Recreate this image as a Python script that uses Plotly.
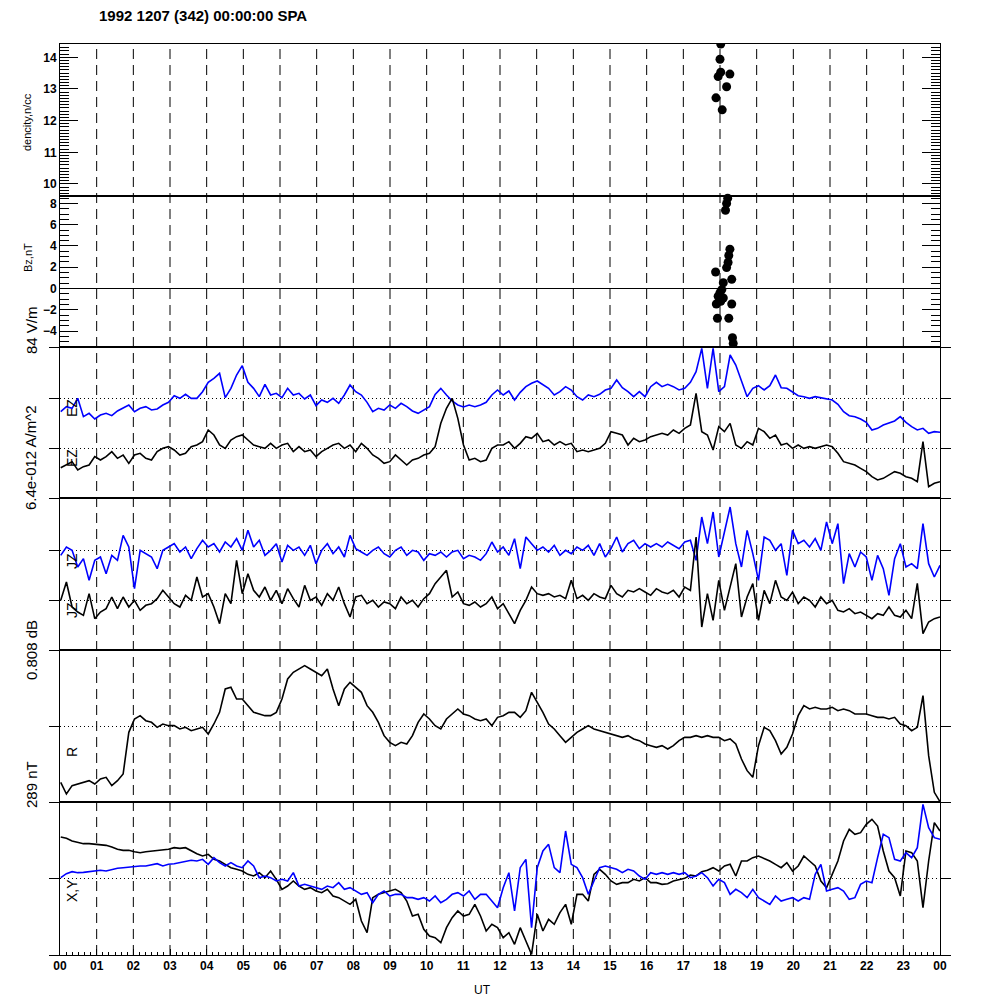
import numpy as np
import plotly.graph_objects as go

TITLE = "1992 1207 (342) 00:00:00 SPA"
HOUR_TICKS = list(range(25))
HOUR_LABELS = ["%02d" % (h % 24) for h in HOUR_TICKS]

# time grid (UT hours) of the line series
UT = np.linspace(0.02, 24.0, 156)

# scatter data (top panels)
DENS_T = [18.02, 18.00, 18.02, 18.27, 17.95, 18.18, 17.89, 18.06]
DENS_V = [14.42, 13.94, 13.53, 13.47, 13.39, 13.07, 12.72, 12.34]
BZ_T = [18.27, 18.21, 18.18, 18.15, 18.27, 18.24, 18.22, 18.18, 17.88, 18.32,
        18.09, 18.05, 17.95, 18.09, 17.90, 18.32, 17.93, 18.24, 18.34, 18.36,
        18.00, 18.02, 18.00]
BZ_V = [8.8, 8.5, 8.0, 7.36, 3.7, 3.1, 2.45, 1.97, 1.55, 0.86,
        0.54, -0.1, -0.73, -0.89, -1.46, -1.46, -2.8, -2.8, -4.63, -5.17,
        -0.4, -1.2, -1.0]

# EZ panel (arbitrary units, panel spans 0..453)
EZ_BLUE = [259, 274, 269, 299, 244, 254, 237, 249, 254, 247,
           261, 271, 279, 259, 269, 274, 264, 267, 279, 287,
           307, 299, 311, 299, 299, 319, 347, 359, 374, 301,
           329, 369, 397, 347, 329, 304, 341, 309, 314, 301,
           329, 309, 314, 297, 309, 277, 294, 287, 299, 284,
           309, 339, 319, 309, 287, 259, 269, 264, 279, 269,
           284, 274, 261, 254, 263, 274, 311, 329, 309, 291,
           279, 273, 279, 274, 279, 287, 309, 324, 309, 321,
           294, 317, 334, 344, 351, 339, 329, 309, 319, 334,
           324, 304, 294, 309, 304, 311, 324, 329, 354, 331,
           319, 304, 319, 304, 334, 347, 334, 341, 334, 324,
           329, 347, 379, 449, 329, 449, 319, 334, 429, 399,
           349, 304, 329, 337, 324, 337, 369, 331, 329, 319,
           307, 304, 299, 304, 301, 299, 294, 281, 259, 247,
           244, 237, 227, 204, 209, 219, 224, 231, 244, 227,
           214, 204, 209, 194, 199, 197]
EZ_BLACK = [91, 99, 109, 84, 94, 99, 124, 114, 124, 139,
            119, 129, 104, 129, 134, 119, 114, 139, 149, 154,
            144, 129, 134, 154, 159, 169, 204, 189, 159, 149,
            174, 184, 189, 174, 159, 154, 149, 164, 149, 159,
            164, 139, 154, 139, 144, 124, 139, 149, 159, 164,
            149, 159, 139, 164, 149, 129, 119, 104, 109, 129,
            114, 99, 114, 119, 129, 134, 154, 224, 269, 299,
            239, 159, 114, 119, 109, 114, 149, 159, 159, 169,
            149, 164, 184, 179, 194, 169, 174, 159, 169, 159,
            164, 139, 144, 139, 144, 149, 164, 199, 194, 189,
            159, 179, 169, 174, 184, 189, 194, 189, 204, 194,
            209, 219, 314, 199, 189, 144, 214, 199, 224, 159,
            149, 169, 159, 209, 199, 179, 189, 159, 164, 149,
            159, 149, 154, 149, 154, 159, 154, 134, 109, 104,
            99, 89, 79, 64, 54, 59, 69, 79, 74, 64,
            59, 49, 169, 34, 44, 49]

# JZ panel (arbitrary units, panel spans 0..456)
JZ_BLUE = [284, 309, 299, 249, 274, 209, 269, 279, 229, 284,
           269, 344, 309, 184, 299, 289, 279, 244, 299, 309,
           319, 294, 309, 274, 304, 329, 309, 319, 294, 324,
           309, 334, 299, 359, 309, 329, 284, 299, 319, 264,
           314, 299, 309, 284, 314, 259, 299, 319, 289, 309,
           279, 344, 304, 294, 284, 299, 309, 289, 279, 299,
           309, 284, 299, 294, 269, 289, 284, 294, 279, 294,
           299, 274, 284, 279, 269, 289, 324, 294, 309, 284,
           334, 244, 339, 319, 299, 309, 294, 314, 284, 299,
           289, 309, 299, 314, 284, 319, 279, 304, 339, 294,
           319, 329, 304, 319, 309, 319, 309, 324, 314, 304,
           324, 329, 269, 399, 319, 414, 279, 359, 429, 319,
           249, 359, 289, 209, 339, 329, 299, 319, 224, 359,
           319, 329, 309, 334, 299, 384, 319, 379, 199, 289,
           249, 294, 279, 209, 284, 244, 164, 274, 319, 249,
           259, 244, 379, 259, 219, 254]
JZ_BLACK = [149, 204, 129, 114, 104, 169, 94, 114, 124, 159,
            124, 159, 129, 149, 119, 134, 139, 154, 179, 159,
            139, 129, 164, 149, 219, 159, 169, 129, 79, 169,
            139, 269, 169, 229, 179, 159, 189, 149, 179, 139,
            184, 154, 129, 194, 149, 159, 134, 169, 149, 189,
            139, 99, 159, 164, 139, 149, 129, 144, 139, 124,
            159, 139, 149, 129, 154, 169, 199, 219, 239, 159,
            174, 139, 134, 144, 129, 139, 159, 124, 139, 109,
            79, 119, 149, 189, 169, 164, 169, 159, 164, 154,
            209, 154, 164, 149, 169, 159, 154, 194, 169, 159,
            179, 174, 184, 174, 164, 184, 174, 169, 179, 159,
            189, 179, 339, 69, 169, 89, 209, 119, 189, 259,
            99, 159, 199, 89, 179, 139, 209, 159, 149, 174,
            139, 159, 149, 129, 159, 139, 149, 119, 114, 124,
            109, 114, 104, 94, 109, 104, 129, 104, 99, 119,
            94, 200, 49, 84, 94, 99]

# R panel (arbitrary units, panel spans 0..456)
R_VAL = [59, 24, 49, 54, 59, 64, 54, 69, 74, 49,
         64, 84, 209, 249, 259, 244, 239, 224, 234, 229,
         229, 219, 224, 214, 219, 224, 204, 234, 269, 339,
         344, 309, 309, 289, 269, 264, 259, 259, 269, 309,
         369, 389, 399, 409, 399, 389, 379, 399, 339, 289,
         339, 359, 344, 329, 289, 269, 239, 199, 179, 169,
         179, 174, 199, 239, 264, 249, 229, 219, 249, 264,
         279, 264, 259, 249, 244, 249, 229, 254, 259, 269,
         269, 254, 274, 329, 299, 269, 234, 219, 199, 179,
         194, 209, 219, 229, 219, 214, 209, 204, 199, 194,
         199, 189, 184, 174, 169, 164, 169, 159, 169, 184,
         194, 194, 199, 194, 199, 194, 194, 184, 189, 174,
         129, 94, 74, 169, 224, 214, 184, 144, 164, 204,
         259, 289, 279, 284, 279, 279, 284, 274, 279, 274,
         264, 264, 264, 259, 254, 254, 249, 254, 234, 229,
         214, 224, 319, 139, 29, 1]

# X,Y panel (arbitrary units, panel spans 0..459)
X_VAL = [354, 350, 342, 337, 334, 334, 332, 330, 329, 324,
         317, 314, 314, 310, 307, 310, 312, 312, 315, 317,
         322, 320, 322, 312, 304, 297, 302, 287, 282, 272,
         262, 257, 252, 242, 237, 247, 232, 252, 227, 197,
         207, 222, 207, 197, 202, 192, 187, 197, 177, 172,
         162, 152, 167, 102, 67, 172, 182, 187, 192, 197,
         187, 162, 117, 122, 77, 57, 52, 37, 82, 112,
         132, 117, 122, 152, 117, 72, 92, 82, 52, 67,
         32, 82, 42, 2, 122, 72, 107, 92, 127, 152,
         92, 182, 182, 162, 242, 257, 242, 222, 212, 217,
         217, 227, 222, 232, 217, 217, 212, 214, 222, 227,
         230, 240, 237, 250, 254, 262, 252, 267, 272, 237,
         282, 282, 292, 297, 290, 282, 272, 262, 277, 252,
         267, 297, 282, 267, 222, 202, 242, 282, 342, 377,
         362, 367, 392, 407, 387, 312, 252, 232, 177, 312,
         307, 282, 142, 282, 397, 372]
Y_VAL = [232, 244, 250, 247, 248, 250, 252, 254, 252, 257,
         260, 262, 264, 264, 267, 267, 270, 274, 267, 272,
         274, 277, 282, 284, 282, 287, 272, 292, 277, 267,
         277, 267, 262, 282, 267, 232, 237, 232, 222, 227,
         222, 247, 207, 212, 207, 202, 197, 207, 202, 217,
         197, 202, 192, 182, 187, 157, 182, 192, 177, 182,
         182, 172, 172, 167, 172, 162, 177, 157, 167, 182,
         187, 177, 192, 167, 182, 182, 162, 142, 202, 247,
         132, 262, 287, 82, 262, 312, 332, 262, 247, 372,
         272, 262, 232, 182, 222, 262, 267, 262, 257, 247,
         257, 252, 237, 227, 247, 242, 247, 242, 247, 242,
         247, 232, 237, 247, 232, 207, 227, 217, 182, 197,
         187, 172, 197, 172, 162, 152, 177, 162, 167, 172,
         162, 172, 167, 242, 272, 192, 197, 202, 192, 167,
         172, 212, 222, 217, 292, 362, 352, 287, 282, 307,
         292, 322, 452, 382, 352, 347]

BLUE = "#0000ff"
BLACK = "#000000"
FONT = "Liberation Sans"
OFF = 8  # page body margin of the html page, compensated here


def px_x(x):
    return (x - OFF) / 1000.0


def px_y(y):
    return 1 - (y - OFF) / 1000.0


def dom(top_px, bot_px):
    return [px_y(bot_px), px_y(top_px)]


fig = go.Figure()

fig.add_trace(go.Scatter(x=DENS_T, y=DENS_V, mode="markers", xaxis="x", yaxis="y",
                         marker=dict(color=BLACK, size=9), showlegend=False))
fig.add_trace(go.Scatter(x=BZ_T, y=BZ_V, mode="markers", xaxis="x2", yaxis="y2",
                         marker=dict(color=BLACK, size=9), showlegend=False, cliponaxis=False))

line_traces = [
    (EZ_BLUE, BLUE, "x3", "y3"), (EZ_BLACK, BLACK, "x3", "y3"),
    (JZ_BLUE, BLUE, "x4", "y4"), (JZ_BLACK, BLACK, "x4", "y4"),
    (R_VAL, BLACK, "x5", "y5"),
    (X_VAL, BLACK, "x6", "y6"), (Y_VAL, BLUE, "x6", "y6"),
]
for vals, col, xa, ya in line_traces:
    fig.add_trace(go.Scatter(x=UT, y=vals, mode="lines", xaxis=xa, yaxis=ya,
                             line=dict(color=col, width=1.6), showlegend=False))

tickfont = dict(family=FONT, size=12, color=BLACK, weight="bold")

base_x = dict(range=[0, 24], showline=True, linecolor=BLACK, linewidth=1, mirror=True,
              showgrid=False, zeroline=False, domain=[px_x(60), px_x(940)], automargin=False,
              showticklabels=False, ticks="")

layout = dict(width=1000, height=1000, margin=dict(l=0, r=0, t=0, b=0, pad=0),
              paper_bgcolor="white", plot_bgcolor="white",
              font=dict(family=FONT, color=BLACK))

panels = [(44, 196), (196, 347), (347, 498), (498, 650), (650, 802), (802, 955)]
for i in range(6):
    xname = "xaxis" if i == 0 else "xaxis%d" % (i + 1)
    yid = "y" if i == 0 else "y%d" % (i + 1)
    xa = dict(base_x, anchor=yid)
    if i > 0:
        xa["matches"] = "x"
    if i == 5:
        xa.update(showticklabels=True, tickvals=HOUR_TICKS, ticktext=HOUR_LABELS,
                  ticks="inside", ticklen=6, tickcolor=BLACK, tickfont=tickfont,
                  minor=dict(dtick=1 / 6.0, tick0=0, ticks="inside", ticklen=3, tickcolor=BLACK))
    layout[xname] = xa

yb = dict(showline=True, linecolor=BLACK, linewidth=1, zeroline=False, tickcolor=BLACK,
          automargin=False)
xid = lambda i: "x" if i == 0 else "x%d" % (i + 1)

layout["yaxis"] = dict(yb, domain=dom(*panels[0]), anchor="x", range=[9.62, 14.42],
                       tickmode="linear", tick0=0, dtick=1, ticks="inside", ticklen=18,
                       mirror="ticks", showgrid=False, tickfont=tickfont,
                       minor=dict(dtick=0.1, tick0=0, ticks="inside", ticklen=9, tickcolor=BLACK))
layout["yaxis2"] = dict(yb, domain=dom(*panels[1]), anchor="x2", range=[-5.5, 8.7],
                        tickmode="linear", tick0=0, dtick=2, ticks="inside", ticklen=18,
                        mirror="ticks", showgrid=False, tickfont=tickfont,
                        minor=dict(dtick=0.5, tick0=0, ticks="inside", ticklen=9, tickcolor=BLACK))
lower = [(2, [0, 453], [0, 150, 300, 453]),
         (3, [0, 456], [0, 150, 300, 456]),
         (4, [0, 456], [0, 228, 456]),
         (5, [0, 459], [0, 230, 459])]
for i, rng, tv in lower:
    layout["yaxis%d" % (i + 1)] = dict(yb, domain=dom(*panels[i]), anchor=xid(i), range=rng,
                                       tickvals=tv, ticks="outside", ticklen=10,
                                       showticklabels=False, mirror="ticks",
                                       showgrid=True, gridcolor=BLACK, gridwidth=1,
                                       griddash="1px,3px")

fig.update_layout(**layout)

shapes = []
for h in range(1, 24):
    shapes.append(dict(type="line", xref="x", yref="paper", x0=h, x1=h,
                       y0=px_y(955), y1=px_y(44), layer="below",
                       line=dict(color=BLACK, width=1, dash="10px,6px")))
shapes.append(dict(type="line", xref="x2 domain", yref="y2", x0=0, x1=1, y0=0, y1=0,
                   line=dict(color=BLACK, width=1)))
fig.update_layout(shapes=shapes)


def ann(text, xpx, ypx, size, angle=0, xanchor="center", weight="normal"):
    fig.add_annotation(text=text, x=px_x(xpx), y=px_y(ypx), xref="paper", yref="paper",
                       showarrow=False, textangle=angle, xanchor=xanchor, yanchor="middle",
                       font=dict(family=FONT, size=size, color=BLACK, weight=weight))


ann(TITLE, 97, 15, 15, xanchor="left", weight="bold")
ann("dencity,n/cc", 27, 122, 11, -90)
ann("Bz,nT", 28, 258, 11, -90)
ann("84 V/m", 31, 330, 15, -90)
ann("6.4e-012 A/m^2", 31, 458, 15, -90)
ann("0.808 dB", 31, 650, 15, -90)
ann("289 nT", 31, 785, 15, -90)
ann("EZ", 72, 408, 14, -90)
ann("EZ", 72, 458, 14, -90)
ann("JZ", 72, 561, 14, -90)
ann("JZ", 72, 610, 14, -90)
ann("R", 72, 752, 14, -90)
ann("X,Y", 72, 891, 14, -90)
ann("UT", 482, 990, 12)

fig.write_html("out.html")
